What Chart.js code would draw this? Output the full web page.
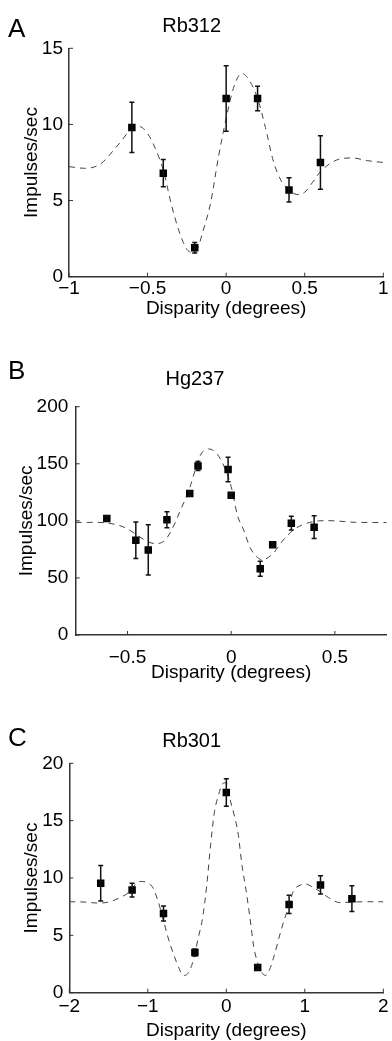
<!DOCTYPE html>
<html>
<head>
<meta charset="utf-8">
<script src="https://cdn.jsdelivr.net/npm/chart.js@4.4.1/dist/chart.umd.min.js"></script>
<style>
  html, body { margin: 0; padding: 0; background: #fff; overflow: hidden; }
  #page { position: relative; width: 392px; height: 1041px; }
  .panel { position: absolute; left: 0; }
  .letter { position: absolute; left: 8px; font-family: "Liberation Sans", Arial, sans-serif; font-size: 26px; line-height: 1; color: #000; }
</style>
</head>
<body>
<div id="page">
  <canvas id="chartA" class="panel" width="392" height="320" style="top:0px"></canvas>
  <canvas id="chartB" class="panel" width="392" height="344" style="top:340px"></canvas>
  <canvas id="chartC" class="panel" width="392" height="362" style="top:680px"></canvas>
  <div class="letter" style="top:15px">A</div>
  <div class="letter" style="top:357px">B</div>
  <div class="letter" style="top:724px">C</div>
</div>
<script>
// Panel A - Rb312
const dispA = [-0.6, -0.4, -0.2, 0, 0.2, 0.4, 0.6];
const rateA = [9.8, 6.8, 1.9, 11.7, 11.7, 5.7, 7.5];
const errA = [1.65, 0.9, 0.35, 2.15, 0.8, 0.8, 1.75];
const fitXA = [-1, -0.9, -0.8, -0.7, -0.6, -0.55, -0.5, -0.45, -0.4, -0.35, -0.3, -0.25, -0.22, -0.18, -0.15, -0.1, -0.05, 0, 0.05, 0.1, 0.15, 0.2, 0.25, 0.3, 0.35, 0.4, 0.45, 0.5, 0.55, 0.6, 0.7, 0.8, 0.9, 1];
const fitYA = [7.23, 7.12, 7.4, 8.5, 9.7, 9.85, 9.4, 8.4, 7.0, 4.8, 3.0, 1.8, 1.6, 1.9, 2.9, 4.8, 7.8, 10.4, 12.5, 13.35, 12.85, 11.7, 9.8, 7.6, 6.3, 5.7, 5.4, 5.55, 6.2, 6.9, 7.65, 7.8, 7.62, 7.5];
const xTicksA = [-1, -0.5, 0, 0.5, 1];
const yTicksA = [0, 5, 10, 15];

// Panel B - Hg237
const dispB = [-0.6, -0.46, -0.4, -0.31, -0.2, -0.16, -0.015, 0, 0.14, 0.2, 0.29, 0.4];
const rateB = [102, 83, 74.5, 101, 124, 148, 145, 122.5, 58, 79, 98, 94.5];
const errB = [2, 16, 22, 7, 2, 4, 10.7, 2, 6.5, 2, 6, 10];
const fitXB = [-0.75, -0.65, -0.55, -0.5, -0.45, -0.4, -0.36, -0.32, -0.29, -0.25, -0.2, -0.15, -0.11, -0.07, -0.03, 0, 0.03, 0.06, 0.09, 0.12, 0.15, 0.2, 0.25, 0.3, 0.35, 0.4, 0.45, 0.5, 0.6, 0.75];
const fitYB = [98.5, 98.7, 96.5, 93, 87, 81.5, 80, 83, 91, 107, 129, 157, 163, 159, 146, 130, 105, 92, 77, 69, 66, 71, 83, 92, 97, 99.5, 100.2, 100, 98.7, 98.5];
const xTicksB = [-0.5, 0, 0.5];
const yTicksB = [0, 50, 100, 150, 200];

// Panel C - Rb301
const dispC = [-1.6, -1.2, -0.8, -0.4, 0, 0.4, 0.8, 1.2, 1.6];
const rateC = [9.55, 8.95, 6.9, 3.5, 17.45, 2.2, 7.7, 9.4, 8.2];
const errC = [1.55, 0.6, 0.65, 0.3, 1.2, 0.2, 0.8, 0.8, 1.13];
const fitXC = [-2, -1.8, -1.65, -1.5, -1.35, -1.25, -1.1, -0.95, -0.87, -0.8, -0.75, -0.68, -0.6, -0.55, -0.5, -0.43, -0.36, -0.3, -0.25, -0.2, -0.15, -0.1, -0.05, 0, 0.05, 0.1, 0.15, 0.2, 0.25, 0.3, 0.35, 0.4, 0.45, 0.5, 0.55, 0.6, 0.7, 0.75, 0.8, 0.85, 0.95, 1, 1.1, 1.2, 1.3, 1.45, 1.6, 1.8, 2];
const fitYC = [7.93, 7.9, 7.82, 7.9, 8.3, 8.7, 9.7, 9.3, 8.0, 6.3, 5.0, 3.5, 2.1, 1.5, 1.6, 2.6, 4.7, 6.6, 9.3, 12.9, 15.8, 17.2, 18.2, 18.3, 16.8, 15.5, 13.9, 11.1, 9.0, 6.6, 4.0, 2.6, 1.8, 1.5, 2.0, 3.0, 5.5, 6.6, 7.6, 8.8, 9.4, 9.5, 9.2, 8.8, 8.3, 7.85, 7.9, 7.93, 7.93];
const xTicksC = [-2, -1, 0, 1, 2];
const yTicksC = [0, 5, 10, 15, 20];

const fontFamily = '"Liberation Sans", Arial, Helvetica, sans-serif';
const axisColor = '#333';

function fmt(v) {
    return v < 0 ? '\u2212' + Math.abs(v) : String(v);
}

// vertical error bars with small caps, drawn through the scales
const errorBars = {
    id: 'errorBars',
    afterDatasetsDraw(chart, args, opts) {
        const {ctx, scales: {x, y}} = chart;
        ctx.save();
        ctx.strokeStyle = '#111';
        ctx.lineWidth = 1.5;
        opts.x.forEach((xv, i) => {
            const px = x.getPixelForValue(xv);
            const top = y.getPixelForValue(opts.y[i] + opts.err[i]);
            const bot = y.getPixelForValue(opts.y[i] - opts.err[i]);
            ctx.beginPath();
            ctx.moveTo(px, top); ctx.lineTo(px, bot);
            ctx.moveTo(px - 2.5, top); ctx.lineTo(px + 2.5, top);
            ctx.moveTo(px - 2.5, bot); ctx.lineTo(px + 2.5, bot);
            ctx.stroke();
        });
        ctx.restore();
    }
};

// matlab style ticks pointing into the plot
const innerTicks = {
    id: 'innerTicks',
    afterDraw(chart) {
        const {ctx, chartArea, scales: {x, y}} = chart;
        ctx.save();
        ctx.strokeStyle = axisColor;
        ctx.lineWidth = 1;
        ctx.beginPath();
        x.ticks.forEach(t => {
            const px = x.getPixelForValue(t.value);
            ctx.moveTo(px, chartArea.bottom); ctx.lineTo(px, chartArea.bottom - 4);
        });
        y.ticks.forEach(t => {
            const py = y.getPixelForValue(t.value);
            ctx.moveTo(chartArea.left, py); ctx.lineTo(chartArea.left + 4, py);
        });
        ctx.stroke();
        ctx.restore();
    }
};

function makePanel(id, p) {
    const tickFont = {family: fontFamily, size: 19};
    return new Chart(document.getElementById(id), {
        type: 'scatter',
        data: {
            datasets: [
                {
                    data: p.x.map((v, i) => ({x: v, y: p.y[i]})),
                    pointStyle: 'rect',
                    pointRadius: 5.3,
                    backgroundColor: '#000',
                    borderColor: '#000',
                    borderWidth: 0,
                    order: 0
                },
                {
                    data: p.fitX.map((v, i) => ({x: v, y: p.fitY[i]})),
                    showLine: true,
                    borderColor: '#444',
                    borderWidth: 1,
                    borderDash: [6, 5],
                    pointRadius: 0,
                    cubicInterpolationMode: 'monotone',
                    order: 1
                }
            ]
        },
        options: {
            responsive: false,
            animation: false,
            events: [],
            layout: {padding: {left: 0, right: p.padRight, top: 0, bottom: 0}},
            plugins: {
                legend: {display: false},
                tooltip: {enabled: false},
                title: {
                    display: true,
                    text: p.title,
                    color: '#000',
                    font: {family: fontFamily, size: 20, weight: 'normal'},
                    padding: {top: p.titleTop, bottom: p.titleBottom}
                },
                errorBars: {x: p.x, y: p.y, err: p.err}
            },
            scales: {
                x: {
                    type: 'linear',
                    min: p.xMin,
                    max: p.xMax,
                    afterBuildTicks: s => { s.ticks = p.xTicks.map(v => ({value: v})); },
                    afterFit: s => { s.height = p.xHeight; },
                    grid: {display: true, drawOnChartArea: false, drawTicks: false},
                    border: {display: true, color: axisColor, width: 1.5},
                    ticks: {padding: p.xTickPad, font: tickFont, color: '#000', callback: fmt, maxRotation: 0, autoSkip: false},
                    title: {display: true, text: 'Disparity (degrees)', color: '#000', font: tickFont, padding: 0}
                },
                y: {
                    type: 'linear',
                    min: p.yMin,
                    max: p.yMax,
                    afterBuildTicks: s => { s.ticks = p.yTicks.map(v => ({value: v})); },
                    afterFit: s => { s.width = p.yWidth; },
                    grid: {display: true, drawOnChartArea: false, drawTicks: false},
                    border: {display: true, color: axisColor, width: 1.5},
                    ticks: {padding: p.yTickPad, font: tickFont, color: '#000', callback: fmt, autoSkip: false},
                    title: {display: true, text: 'Impulses/sec', color: '#000', font: tickFont, padding: {top: p.yTitlePad, bottom: 0}}
                }
            }
        },
        plugins: [errorBars, innerTicks]
    });
}

makePanel('chartA', {
    title: 'Rb312', x: dispA, y: rateA, err: errA, fitX: fitXA, fitY: fitYA,
    xTicks: xTicksA, yTicks: yTicksA, xMin: -1, xMax: 1, yMin: 0, yMax: 15,
    titleTop: 14, titleBottom: 10.3, xHeight: 43.3, xTickPad: 1, padRight: 8.7,
    yWidth: 69, yTitlePad: 20.3, yTickPad: 6
});

makePanel('chartB', {
    title: 'Hg237', x: dispB, y: rateB, err: errB, fitX: fitXB, fitY: fitYB,
    xTicks: xTicksB, yTicks: yTicksB, xMin: -0.75, xMax: 0.75, yMin: 0, yMax: 200,
    titleTop: 27.2, titleBottom: 15.5, xHeight: 49, xTickPad: 11.1, padRight: 2.2,
    yWidth: 75.7, yTitlePad: 15.3, yTickPad: 7.4
});

makePanel('chartC', {
    title: 'Rb301', x: dispC, y: rateC, err: errC, fitX: fitXC, fitY: fitYC,
    xTicks: xTicksC, yTicks: yTicksC, xMin: -2, xMax: 2, yMin: 0, yMax: 20,
    titleTop: 49.7, titleBottom: 9.6, xHeight: 49.3, xTickPad: 2.9, padRight: 8.7,
    yWidth: 69.3, yTitlePad: 20.3, yTickPad: 6
});
</script>
</body>
</html>
